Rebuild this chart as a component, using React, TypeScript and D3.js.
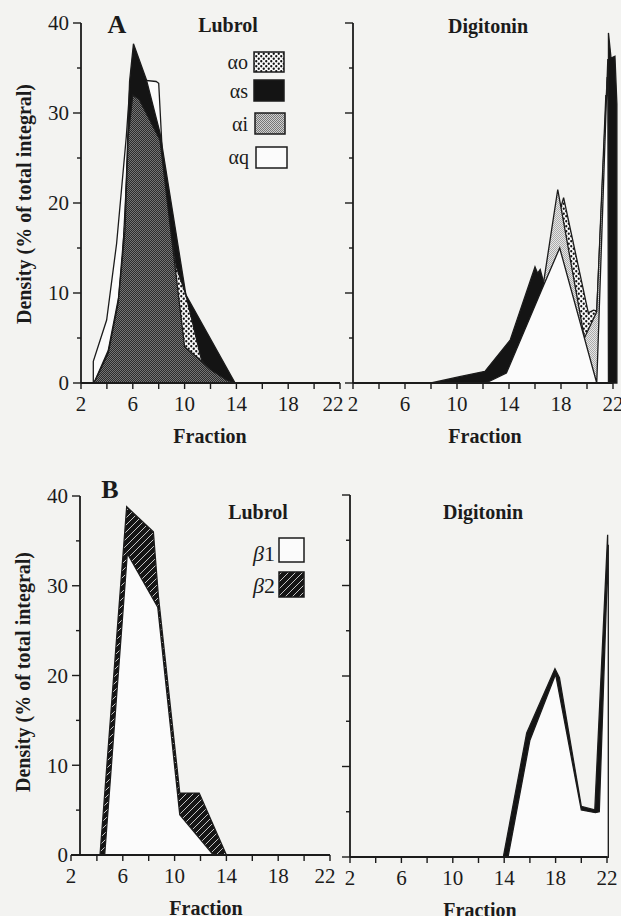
import React from "react";
import * as d3 from "d3";

type Pt = [number, number];

// fractions and density (% of total integral)
// Panel A, Lubrol (drawn back to front: aq, as, ao, ai)
const lubAlphaQ: Pt[] = [[2.95, 0], [2.95, 2.4], [3.98, 7], [4.75, 15.5], [5.5, 27.4], [5.8, 33.5], [6.4, 33.7], [7.8, 33.5], [8.0, 33.3], [8.3, 25], [9, 15], [10, 5], [11, 1.5], [12, 0]];
const lubAlphaS: Pt[] = [[3, 0], [4.1, 3.6], [4.9, 9.5], [5.4, 18], [5.75, 33.5], [6.05, 37.7], [7.05, 33.7], [8.1, 27.8], [10.1, 9.8], [13.9, 0], [22, 0]];
const lubAlphaO: Pt[] = [[3, 0], [4, 2.5], [5, 8], [5.6, 25], [6, 31], [7, 29], [8, 26], [9.36, 12.9], [10.1, 9.8], [11.3, 2.6], [12.5, 0.3], [13, 0]];
const lubAlphaI: Pt[] = [[3, 0], [4.1, 3.3], [4.87, 8.9], [5.4, 17], [5.64, 27.4], [6, 32], [6.5, 31.5], [8.1, 27], [10, 4], [11, 2.8], [12, 1.5], [13.3, 0.3], [14, 0]];

// Panel A, Digitonin (back to front: as, ao, ai, aq)
const digAlphaS: Pt[] = [[2, 0], [8, 0], [10.2, 0.7], [12.15, 1.3], [14.1, 4.8], [16, 12.9], [16.2, 12.2], [16.4, 12.6], [16.7, 11], [18, 7], [20, 2], [21, 0], [21.65, 0], [21.65, 38.9], [21.85, 36.1], [22.15, 36.3], [22.3, 31], [22.3, 0]];
const digAlphaO: Pt[] = [[13, 0], [14.5, 2], [16.5, 10], [17.5, 17], [18.2, 20.6], [20.1, 7.8], [20.5, 8.1], [20.75, 8], [21.55, 34], [21.6, 0]];
const digAlphaI: Pt[] = [[13, 0], [14.5, 1.5], [16.6, 10.6], [17.75, 21.5], [19.8, 5], [20.75, 7.9], [21.45, 32], [21.55, 0]];
const digAlphaQ: Pt[] = [[8, 0], [12.2, 0], [13.8, 1.1], [16.5, 10.3], [17.9, 15], [20.75, 0], [21.6, 36], [21.65, 0]];

// Panel B (back to front: b2, b1)
const lubBeta2: Pt[] = [[4.24, 0], [6.3, 38.8], [8.36, 36], [8.75, 28.8], [10.4, 6.9], [11.9, 6.9], [14, 0], [22, 0]];
const lubBeta1: Pt[] = [[4.6, 0], [6.35, 33.6], [8.7, 27.6], [10.4, 4.5], [13, 0]];
const digBeta2: Pt[] = [[12.76, 0], [13.93, 0], [15.75, 13.7], [17.95, 20.8], [18.3, 19.8], [20, 5.6], [21.05, 5.2], [22.05, 35.6], [22.1, 0]];
const digBeta1: Pt[] = [[14.3, 0], [16, 12.9], [18, 20.2], [20, 5.2], [21.1, 4.9], [21.4, 5], [22.1, 34.5], [22.1, 0]];

const X_TICKS = d3.range(2, 23, 2);
const X_LABELS = [2, 6, 10, 14, 18, 22];
const Y_TICKS = d3.range(0, 41, 5);
const Y_LABELS = [0, 10, 20, 30, 40];

const INK = "#1b1b1b";
const FONT = "'Liberation Serif', 'DejaVu Serif', serif";

const Panel = ({ x0, x1, yAxisX, yTop, yBottom, labels, series, titleX, lastShift }) => {
  const x = d3.scaleLinear().domain([2, 22]).range([x0, x1]);
  const y = d3.scaleLinear().domain([0, 40]).range([yBottom, yTop]);
  const area = d3
    .area<Pt>()
    .x((d) => x(d[0]))
    .y0(y(0))
    .y1((d) => y(d[1]));

  return (
    <g>
      {series.map((s, i) => (
        <path key={i} d={area(s.data)} fill={s.fill} stroke={INK} strokeWidth="1.3" strokeLinejoin="miter" />
      ))}
      {/* x axis */}
      <line x1={Math.min(x0, yAxisX)} x2={x1} y1={y(0)} y2={y(0)} stroke={INK} strokeWidth="1.8" />
      {X_TICKS.map((t) => (
        <line key={t} x1={x(t)} x2={x(t)} y1={y(0)} y2={y(0) + 6} stroke={INK} strokeWidth="1.4" />
      ))}
      {X_LABELS.map((t) => (
        <text key={t} x={x(t) + (t === 22 ? lastShift : 0)} y={y(0) + 28} textAnchor="middle" fontSize="21" fill={INK}>
          {t}
        </text>
      ))}
      <text x={titleX} y={y(0) + 60} textAnchor="middle" fontSize="20" fontWeight="bold" fill={INK}>
        Fraction
      </text>
      {/* y axis */}
      <line x1={yAxisX} x2={yAxisX} y1={y(40)} y2={y(0)} stroke={INK} strokeWidth="1.8" />
      {Y_TICKS.map((t) => (
        <line
          key={t}
          x1={yAxisX - (t % 10 === 0 ? 8 : 4)}
          x2={yAxisX}
          y1={y(t)}
          y2={y(t)}
          stroke={INK}
          strokeWidth="1.4"
        />
      ))}
      {labels &&
        Y_LABELS.map((t) => (
          <text key={t} x={yAxisX - 12} y={y(t)} dy="0.35em" textAnchor="end" fontSize="21" fill={INK}>
            {t}
          </text>
        ))}
    </g>
  );
};

const App = () => {
  const yTitle = "Density (% of total integral)";
  return (
    <svg width={621} height={916} style={{ position: "absolute", left: 0, top: 0 }} fontFamily={FONT}>
      <defs>
        <pattern id="dots" width="5" height="5" patternUnits="userSpaceOnUse">
          <rect width="5" height="5" fill="#fafafa" />
          <circle cx="1.25" cy="1.25" r="1.15" fill="#111" />
          <circle cx="3.75" cy="3.75" r="1.15" fill="#111" />
        </pattern>
        <pattern id="grayDark" width="2" height="2" patternUnits="userSpaceOnUse">
          <rect width="2" height="2" fill="#2c2c2c" />
          <rect width="1" height="1" fill="#747474" />
          <rect x="1" y="1" width="1" height="1" fill="#747474" />
        </pattern>
        <pattern id="grayLight" width="2" height="2" patternUnits="userSpaceOnUse">
          <rect width="2" height="2" fill="#e6e6e6" />
          <rect width="1" height="1" fill="#aaaaaa" />
          <rect x="1" y="1" width="1" height="1" fill="#aaaaaa" />
        </pattern>
        <pattern id="grayMid" width="2" height="2" patternUnits="userSpaceOnUse">
          <rect width="2" height="2" fill="#cfcfcf" />
          <rect width="1" height="1" fill="#777" />
          <rect x="1" y="1" width="1" height="1" fill="#777" />
        </pattern>
        <pattern id="hatch" width="7" height="7" patternUnits="userSpaceOnUse">
          <rect width="7" height="7" fill="#151515" />
          <path d="M0,7 L7,0 M-1,1 L1,-1 M6,8 L8,6" stroke="#d8d8d8" strokeWidth="0.9" />
        </pattern>
      </defs>
      <rect width={621} height={916} fill="#f3f3f1" />

      {/* Panel A */}
      <Panel
        x0={81}
        x1={340}
        yAxisX={81}
        yTop={23}
        yBottom={383}
        labels={true}
        titleX={210}
        lastShift={-7}
        series={[
          { data: lubAlphaQ, fill: "#fbfbfb" },
          { data: lubAlphaS, fill: "#141414" },
          { data: lubAlphaO, fill: "url(#dots)" },
          { data: lubAlphaI, fill: "url(#grayDark)" },
        ]}
      />
      <Panel
        x0={353}
        x1={613}
        yAxisX={353}
        yTop={23}
        yBottom={383}
        labels={false}
        titleX={485}
        lastShift={0}
        series={[
          { data: digAlphaS, fill: "#141414" },
          { data: digAlphaO, fill: "url(#dots)" },
          { data: digAlphaI, fill: "url(#grayLight)" },
          { data: digAlphaQ, fill: "#fbfbfb" },
        ]}
      />
      <text x={117} y={33} textAnchor="middle" fontSize="26" fontWeight="bold" fill={INK}>A</text>
      <text x={228} y={32} textAnchor="middle" fontSize="20" fontWeight="bold" fill={INK}>Lubrol</text>
      <text x={488} y={33} textAnchor="middle" fontSize="20" fontWeight="bold" fill={INK}>Digitonin</text>
      <text transform="translate(31,204) rotate(-90)" textAnchor="middle" fontSize="20" fontWeight="bold" fill={INK}>
        {yTitle}
      </text>

      {/* legend A */}
      <text x={248} y={69} textAnchor="end" fontSize="20" fill={INK}>αo</text>
      <rect x={254} y={52} width={30} height={20} fill="url(#dots)" stroke={INK} strokeWidth="1.5" />
      <text x={248} y={98} textAnchor="end" fontSize="20" fill={INK}>αs</text>
      <rect x={254} y={80} width={30} height={21} fill="#141414" stroke={INK} strokeWidth="1.5" />
      <text x={248} y={131} textAnchor="end" fontSize="20" fill={INK}>αi</text>
      <rect x={255} y={113} width={30} height={21} fill="url(#grayMid)" stroke={INK} strokeWidth="1.5" />
      <text x={249} y={164} textAnchor="end" fontSize="20" fill={INK}>αq</text>
      <rect x={256} y={147} width={31} height={21} fill="#fbfbfb" stroke={INK} strokeWidth="1.5" />

      {/* Panel B */}
      <Panel
        x0={71}
        x1={330}
        yAxisX={80}
        yTop={496}
        yBottom={855}
        labels={true}
        titleX={206}
        lastShift={-5}
        series={[
          { data: lubBeta2, fill: "url(#hatch)" },
          { data: lubBeta1, fill: "#fbfbfb" },
        ]}
      />
      <Panel
        x0={350}
        x1={607}
        yAxisX={350}
        yTop={495}
        yBottom={857}
        labels={false}
        titleX={480}
        lastShift={0}
        series={[
          { data: digBeta2, fill: "#141414" },
          { data: digBeta1, fill: "#fbfbfb" },
        ]}
      />
      <text x={110} y={498} textAnchor="middle" fontSize="26" fontWeight="bold" fill={INK}>B</text>
      <text x={258} y={519} textAnchor="middle" fontSize="20" fontWeight="bold" fill={INK}>Lubrol</text>
      <text x={483} y={519} textAnchor="middle" fontSize="20" fontWeight="bold" fill={INK}>Digitonin</text>
      <text transform="translate(30,672) rotate(-90)" textAnchor="middle" fontSize="20" fontWeight="bold" fill={INK}>
        {yTitle}
      </text>

      {/* legend B */}
      <text x={275} y={561} textAnchor="end" fontSize="22" fill={INK}>
        <tspan fontStyle="italic">β</tspan>1
      </text>
      <rect x={279} y={538} width={25} height={24} fill="#fbfbfb" stroke={INK} strokeWidth="1.5" />
      <text x={275} y={593} textAnchor="end" fontSize="22" fill={INK}>
        <tspan fontStyle="italic">β</tspan>2
      </text>
      <rect x={279} y={572} width={25} height={25} fill="url(#hatch)" stroke={INK} strokeWidth="1.5" />
    </svg>
  );
};

export default App;
